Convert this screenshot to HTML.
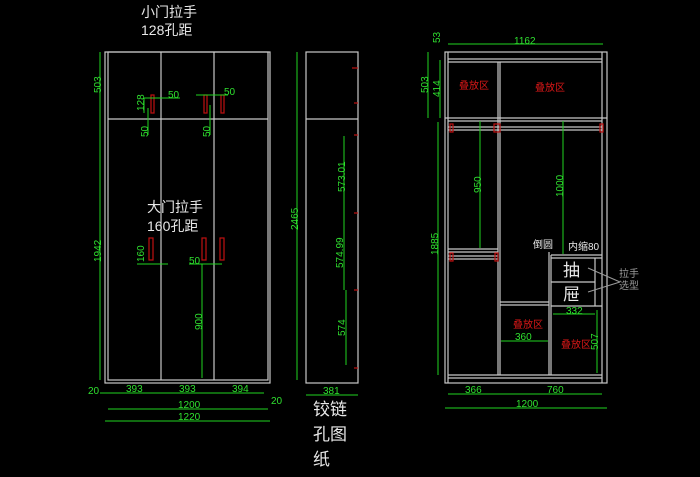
<!DOCTYPE html>
<html><head><meta charset="utf-8"><style>
html,body{margin:0;padding:0;background:#000;width:700px;height:477px;overflow:hidden}
svg{display:block}
text{font-family:"Liberation Sans","Noto Sans CJK SC",sans-serif}
.w{stroke:#c8c8c8;stroke-width:1.2;fill:none}
.g{stroke:#1fd41f;stroke-width:1;fill:none}
.r{stroke:#c01010;stroke-width:1.2;fill:none}
.gt{fill:#2fe02f;font-size:10px}
.rt{fill:#e01818;font-size:10px}
.wt{fill:#e8e8e8}
</style></head><body>
<svg width="700" height="477" viewBox="0 0 700 477">
<!-- titles -->
<text class="wt" x="141" y="17" font-size="14">小门拉手</text>
<text class="wt" x="141" y="35" font-size="14">128孔距</text>
<text class="wt" x="147" y="212" font-size="14">大门拉手</text>
<text class="wt" x="147" y="231" font-size="14">160孔距</text>

<!-- FRONT VIEW -->
<rect class="w" x="105" y="52" width="165" height="331"/>
<rect class="w" x="108" y="52" width="160" height="328"/>
<line class="w" x1="108" y1="119" x2="268" y2="119"/>
<line class="w" x1="161" y1="52" x2="161" y2="380"/>
<line class="w" x1="214" y1="52" x2="214" y2="380"/>
<rect class="r" x="151" y="95" width="3" height="18"/>
<rect class="r" x="204" y="95" width="3" height="18"/>
<rect class="r" x="221" y="95" width="3" height="18"/>
<rect class="r" x="149" y="238" width="4" height="22"/>
<rect class="r" x="202" y="238" width="4" height="22"/>
<rect class="r" x="220" y="238" width="4" height="22"/>
<!-- front dims -->
<line class="g" x1="100" y1="52" x2="100" y2="380"/>
<line class="g" x1="297" y1="52" x2="297" y2="380"/>
<text class="gt" transform="translate(101,93) rotate(-90)">503</text>
<text class="gt" transform="translate(101,262) rotate(-90)">1942</text>
<text class="gt" transform="translate(298,230) rotate(-90)">2465</text>
<line class="g" x1="144" y1="98" x2="160" y2="98"/>
<line class="g" x1="144" y1="98" x2="144" y2="113"/>
<text class="gt" transform="translate(144,111) rotate(-90)">128</text>
<line class="g" x1="148" y1="98" x2="180" y2="98"/><text class="gt" x="168" y="98">50</text>
<line class="g" x1="148" y1="108" x2="148" y2="135"/><text class="gt" transform="translate(148,137) rotate(-90)">50</text>
<line class="g" x1="196" y1="95" x2="228" y2="95"/><text class="gt" x="224" y="95">50</text>
<line class="g" x1="210" y1="105" x2="210" y2="135"/><text class="gt" transform="translate(210,137) rotate(-90)">50</text>
<text class="gt" transform="translate(144,262) rotate(-90)">160</text>
<line class="g" x1="137" y1="264" x2="168" y2="264"/>
<line class="g" x1="189" y1="264" x2="222" y2="264"/><text class="gt" x="189" y="264">50</text>
<line class="g" x1="202" y1="264" x2="202" y2="378"/>
<text class="gt" transform="translate(202,330) rotate(-90)">900</text>
<line class="g" x1="100" y1="393" x2="264" y2="393"/>
<text class="gt" x="88" y="394">20</text><text class="gt" x="126" y="392">393</text><text class="gt" x="179" y="392">393</text><text class="gt" x="232" y="392">394</text>
<text class="gt" x="271" y="404">20</text>
<line class="g" x1="108" y1="409" x2="268" y2="409"/><text class="gt" x="178" y="408">1200</text>
<line class="g" x1="105" y1="421" x2="270" y2="421"/><text class="gt" x="178" y="420">1220</text>

<!-- SIDE VIEW -->
<rect class="w" x="306" y="52" width="52" height="331"/>
<line class="w" x1="306" y1="119" x2="358" y2="119"/>
<g class="r"><line x1="352" y1="68" x2="358" y2="68"/><line x1="354" y1="103" x2="358" y2="103"/><line x1="354" y1="135" x2="358" y2="135"/><line x1="354" y1="213" x2="358" y2="213"/><line x1="354" y1="290" x2="358" y2="290"/><line x1="354" y1="368" x2="358" y2="368"/></g>
<line class="g" x1="344" y1="136" x2="344" y2="290"/><line class="g" x1="346" y1="290" x2="346" y2="365"/>
<text class="gt" transform="translate(345,192) rotate(-90)">573.01</text>
<text class="gt" transform="translate(343,268) rotate(-90)">574.99</text>
<text class="gt" transform="translate(345,336) rotate(-90)">574</text>
<line class="g" x1="306" y1="395" x2="358" y2="395"/><text class="gt" x="323" y="394">381</text>
<text class="wt" x="313" y="415" font-size="17">铰链</text>
<text class="wt" x="313" y="440" font-size="17">孔图</text>
<text class="wt" x="313" y="465" font-size="17">纸</text>

<!-- RIGHT VIEW -->
<rect class="w" x="445" y="52" width="162" height="331"/>
<line class="w" x1="448" y1="52" x2="448" y2="383"/><line class="w" x1="602" y1="52" x2="602" y2="383"/>
<line class="w" x1="448" y1="59" x2="602" y2="59"/><line class="w" x1="448" y1="62" x2="602" y2="62"/>
<line class="w" x1="445" y1="118" x2="607" y2="118"/><line class="w" x1="448" y1="121" x2="602" y2="121"/>
<line class="w" x1="448" y1="127" x2="602" y2="127"/><line class="w" x1="448" y1="130" x2="602" y2="130"/>
<line class="w" x1="498" y1="62" x2="498" y2="375"/><line class="w" x1="500" y1="62" x2="500" y2="375"/>
<line class="w" x1="448" y1="249" x2="498" y2="249"/><line class="w" x1="448" y1="252" x2="498" y2="252"/>
<line class="w" x1="448" y1="256" x2="498" y2="256"/><line class="w" x1="448" y1="259" x2="498" y2="259"/>
<rect class="r" x="450" y="124" width="3" height="8"/><rect class="r" x="494" y="124" width="6" height="8"/><rect class="r" x="600" y="124" width="3" height="8"/>
<rect class="r" x="450" y="253" width="3" height="8"/><rect class="r" x="495" y="253" width="3" height="8"/>
<line class="w" x1="549" y1="252" x2="549" y2="375"/><line class="w" x1="551" y1="255" x2="551" y2="375"/>
<line class="w" x1="551" y1="255" x2="602" y2="255"/><line class="w" x1="551" y1="258" x2="602" y2="258"/>
<line class="w" x1="551" y1="282" x2="595" y2="282"/><line class="w" x1="551" y1="306" x2="602" y2="306"/>
<line class="w" x1="595" y1="258" x2="595" y2="306"/>
<line class="w" x1="500" y1="302" x2="549" y2="302"/><line class="w" x1="500" y1="305" x2="549" y2="305"/>
<line class="w" x1="448" y1="375" x2="602" y2="375"/><line class="w" x1="448" y1="378" x2="602" y2="378"/>
<text class="rt" x="459" y="89">叠放区</text><text class="rt" x="535" y="91">叠放区</text>
<text class="rt" x="513" y="328">叠放区</text><text class="rt" x="561" y="348">叠放区</text>
<text class="wt" x="533" y="248" font-size="10">倒圆</text><text class="wt" x="568" y="250" font-size="10">内缩80</text>
<text class="wt" x="563" y="276" font-size="17">抽</text><text class="wt" x="563" y="300" font-size="17">屉</text>
<text fill="#9a9a9a" x="619" y="277" font-size="10">拉手</text><text fill="#9a9a9a" x="619" y="289" font-size="10">选型</text>
<line stroke="#9a9a9a" x1="588" y1="268" x2="620" y2="282"/><line stroke="#9a9a9a" x1="588" y1="292" x2="620" y2="282"/>
<!-- right dims -->
<line class="g" x1="448" y1="44" x2="603" y2="44"/><text class="gt" x="514" y="44">1162</text>
<text class="gt" transform="translate(440,43) rotate(-90)">53</text>
<line class="g" x1="428" y1="52" x2="428" y2="118"/><text class="gt" transform="translate(428,93) rotate(-90)">503</text>
<line class="g" x1="440" y1="60" x2="440" y2="118"/><text class="gt" transform="translate(440,97) rotate(-90)">414</text>
<line class="g" x1="438" y1="122" x2="438" y2="375"/><text class="gt" transform="translate(438,255) rotate(-90)">1885</text>
<line class="g" x1="480" y1="121" x2="480" y2="248"/><text class="gt" transform="translate(481,193) rotate(-90)">950</text>
<line class="g" x1="563" y1="121" x2="563" y2="254"/><text class="gt" transform="translate(563,197) rotate(-90)">1000</text>
<line class="g" x1="553" y1="314" x2="595" y2="314"/><text class="gt" x="566" y="314">332</text>
<line class="g" x1="597" y1="310" x2="597" y2="373"/><text class="gt" transform="translate(598,350) rotate(-90)">507</text>
<line class="g" x1="501" y1="341" x2="548" y2="341"/><text class="gt" x="515" y="340">360</text>
<line class="g" x1="448" y1="394" x2="602" y2="394"/><text class="gt" x="465" y="393">366</text><text class="gt" x="547" y="393">760</text>
<line class="g" x1="445" y1="408" x2="607" y2="408"/><text class="gt" x="516" y="407">1200</text>
</svg>
</body></html>
